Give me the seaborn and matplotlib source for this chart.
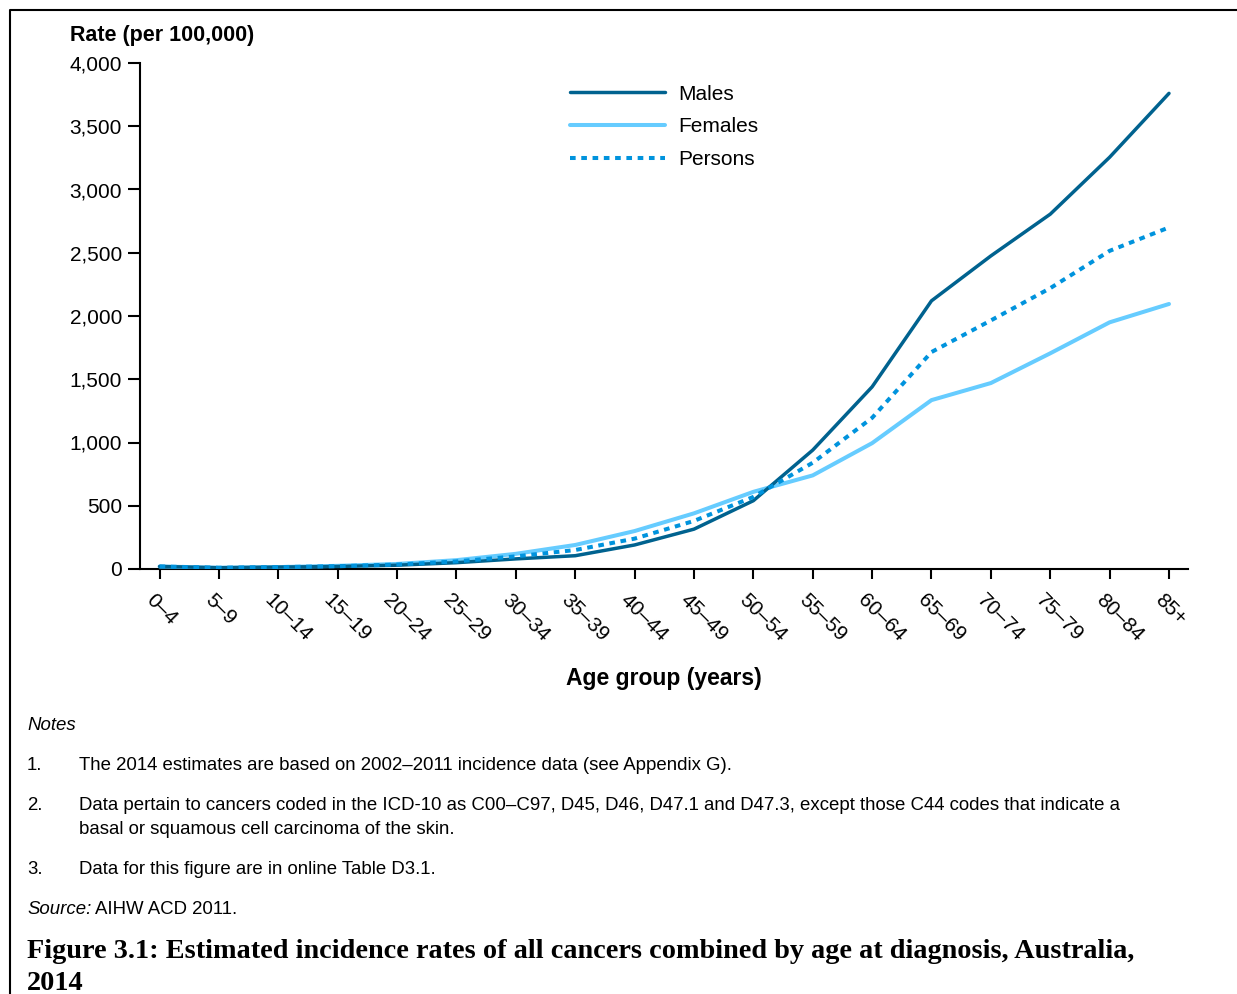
import matplotlib
matplotlib.use("Agg")
import matplotlib.pyplot as plt
import matplotlib.transforms as mtransforms
import seaborn as sns
import pandas as pd
from matplotlib.lines import Line2D
from matplotlib.ticker import FuncFormatter

age_groups = ["0–4", "5–9", "10–14", "15–19", "20–24", "25–29", "30–34", "35–39",
              "40–44", "45–49", "50–54", "55–59", "60–64", "65–69", "70–74", "75–79",
              "80–84", "85+"]
males = [20, 10, 15, 20, 30, 50, 80, 105, 190, 315, 540, 940, 1440, 2120, 2475, 2805, 3255, 3760]
females = [20, 10, 15, 25, 40, 70, 120, 190, 300, 440, 610, 740, 995, 1335, 1470, 1705, 1950, 2095]
persons = [20, 10, 15, 22, 35, 60, 100, 150, 240, 380, 570, 840, 1195, 1715, 1965, 2220, 2515, 2700]
series_names = ["Males", "Females", "Persons"]

y_ticks = [0, 500, 1000, 1500, 2000, 2500, 3000, 3500, 4000]

sns.set_theme(style="white")
plt.rcParams['font.family'] = ['Liberation Sans', 'DejaVu Sans']
for k in ["text.color", "axes.labelcolor", "xtick.color", "ytick.color", "axes.edgecolor"]:
    plt.rcParams[k] = "black"

fig = plt.figure(figsize=(12.37, 9.94), dpi=100)
ax = fig.add_axes([140/1237, 1-569/994, (1188-140)/1237, (569-63)/994])

pos = list(range(len(age_groups)))
df = pd.DataFrame({"pos": pos, "Males": males, "Females": females, "Persons": persons})

colors = {"Males": "#00628F", "Females": "#66CCFF", "Persons": "#0093DD"}
dot_style = (0, (1.4, 1.4))
sns.lineplot(data=df, x="pos", y="Males", ax=ax, color=colors["Males"], linewidth=2.5, zorder=4)
sns.lineplot(data=df, x="pos", y="Females", ax=ax, color=colors["Females"], linewidth=2.9, zorder=3)
sns.lineplot(data=df, x="pos", y="Persons", ax=ax, color=colors["Persons"], linewidth=2.9,
             linestyle=dot_style, zorder=5)

ax.set_xlim(-0.33, 17.32)
ax.set_ylim(0, 4000)
ax.set_yticks(y_ticks)
ax.yaxis.set_major_formatter(FuncFormatter(lambda v, p: f"{int(v):,}"))
ax.set_xticks(pos)
ax.set_xticklabels(age_groups, rotation=-45, ha="left", va="center", rotation_mode="anchor")
for lab in ax.get_xticklabels():
    lab.set_fontsize(15)
ax.tick_params(axis="y", labelsize=15, direction="out", length=8.5, width=1.5, color="black", pad=4.5, left=True)
ax.tick_params(axis="x", direction="out", length=7, width=1.5, color="black", pad=13, bottom=True)
ax.set_xlabel("")
ax.set_ylabel("")
for s in ["top", "right"]:
    ax.spines[s].set_visible(False)
for s in ["left", "bottom"]:
    ax.spines[s].set_visible(True)
    ax.spines[s].set_color("black")
    ax.spines[s].set_linewidth(1.5)
ax.grid(False)

offset = mtransforms.ScaledTranslation(-11/100, 0, fig.dpi_scale_trans)
for lab in ax.get_xticklabels():
    lab.set_transform(lab.get_transform() + offset)

handles = [Line2D([0], [0], color=colors["Males"], lw=2.5),
           Line2D([0], [0], color=colors["Females"], lw=2.9),
           Line2D([0], [0], color=colors["Persons"], lw=2.9, linestyle=dot_style)]
ax.legend(handles, series_names, loc="upper left", bbox_to_anchor=(0.392, 0.994), frameon=False,
          fontsize=15, handlelength=4.6, handletextpad=0.6, labelspacing=0.65)

fig.text(70/1237, 1-35/994, "Rate (per 100,000)", fontsize=15.5, fontweight="bold", va="center", ha="left")
fig.text(664/1237, 1-679/994, "Age group (years)", fontsize=16.5, fontweight="bold", va="center", ha="center")

fs = 13.4
fig.text(27/1237, 1-725/994, "Notes", fontsize=fs, style="italic", va="center")
notes = [("1.", "The 2014 estimates are based on 2002–2011 incidence data (see Appendix G).", 765),
         ("2.", "Data pertain to cancers coded in the ICD-10 as C00–C97, D45, D46, D47.1 and D47.3, except those C44 codes that indicate a", 805),
         ("", "basal or squamous cell carcinoma of the skin.", 829),
         ("3.", "Data for this figure are in online Table D3.1.", 869)]
for num, txt, y in notes:
    if num:
        fig.text(27/1237, 1-y/994, num, fontsize=fs, va="center")
    fig.text(79/1237, 1-y/994, txt, fontsize=fs, va="center")
fig.text(27/1237, 1-909/994, "Source:", fontsize=fs, style="italic", va="center")
fig.text(95/1237, 1-909/994, "AIHW ACD 2011.", fontsize=fs, va="center")

fig.text(27/1237, 1-952/994, "Figure 3.1: Estimated incidence rates of all cancers combined by age at diagnosis, Australia,",
         fontsize=20.3, fontweight="bold", family=["Liberation Serif", "DejaVu Serif"], va="center")
fig.text(27/1237, 1-983/994, "2014", fontsize=20.3, fontweight="bold",
         family=["Liberation Serif", "DejaVu Serif"], va="center")

fig.add_artist(Line2D([10/1237, 10/1237, 1.0], [0.0, 1-10/994, 1-10/994], color="black", lw=1.5,
                      transform=fig.transFigure))

fig.savefig("out.png", dpi=100)
